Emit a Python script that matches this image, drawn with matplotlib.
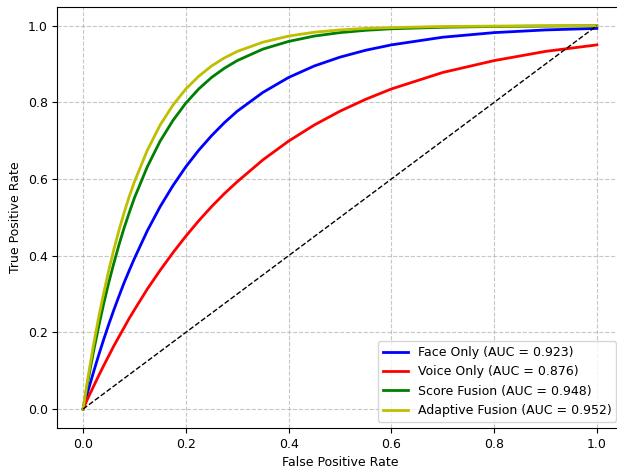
import matplotlib
matplotlib.use('Agg')
import matplotlib.pyplot as plt

plt.rcParams['font.size'] = 9

# false positive rate points
fpr = [0, 0.01, 0.02, 0.03, 0.04, 0.05, 0.06, 0.07, 0.08, 0.09, 0.1,
       0.125, 0.15, 0.175, 0.2, 0.225, 0.25, 0.275, 0.3, 0.35, 0.4,
       0.45, 0.5, 0.55, 0.6, 0.7, 0.8, 0.9, 1.0]

tpr_face = [0, 0.049, 0.095, 0.139, 0.181, 0.221, 0.259, 0.295, 0.330, 0.362, 0.393,
            0.465, 0.528, 0.583, 0.632, 0.675, 0.713, 0.747, 0.777, 0.826, 0.865,
            0.895, 0.918, 0.936, 0.950, 0.970, 0.982, 0.989, 0.993]
tpr_voice = [0, 0.030, 0.058, 0.086, 0.113, 0.139, 0.165, 0.189, 0.213, 0.237, 0.259,
             0.313, 0.362, 0.408, 0.451, 0.491, 0.528, 0.562, 0.593, 0.650, 0.699,
             0.741, 0.777, 0.808, 0.835, 0.878, 0.909, 0.933, 0.950]
tpr_score = [0, 0.077, 0.148, 0.213, 0.274, 0.330, 0.381, 0.429, 0.473, 0.513, 0.551,
             0.632, 0.699, 0.753, 0.798, 0.835, 0.865, 0.889, 0.909, 0.939, 0.959,
             0.973, 0.982, 0.988, 0.992, 0.996, 0.998, 0.999, 1.0]
tpr_adapt = [0, 0.086, 0.165, 0.237, 0.302, 0.362, 0.417, 0.467, 0.513, 0.555, 0.593,
             0.675, 0.741, 0.793, 0.835, 0.868, 0.895, 0.916, 0.933, 0.957, 0.973,
             0.983, 0.989, 0.993, 0.995, 0.998, 0.999, 1.0, 1.0]

labels = ['Face Only (AUC = 0.923)', 'Voice Only (AUC = 0.876)',
          'Score Fusion (AUC = 0.948)', 'Adaptive Fusion (AUC = 0.952)']
colors = ['b', 'r', 'g', 'y']

fig, ax = plt.subplots(figsize=(6.17, 4.68), dpi=100)
fig.subplots_adjust(left=0.093, right=1.009, bottom=0.085, top=0.986)
for tpr, lab, c in zip([tpr_face, tpr_voice, tpr_score, tpr_adapt], labels, colors):
    ax.plot(fpr, tpr, color=c, lw=2, label=lab)
ax.plot([0, 1], [0, 1], 'k--', lw=1)

ax.set_xlabel('False Positive Rate')
ax.set_ylabel('True Positive Rate')
ax.grid(True, linestyle='--', alpha=0.7)
ax.legend(loc='lower right')
fig.savefig('out.png')
